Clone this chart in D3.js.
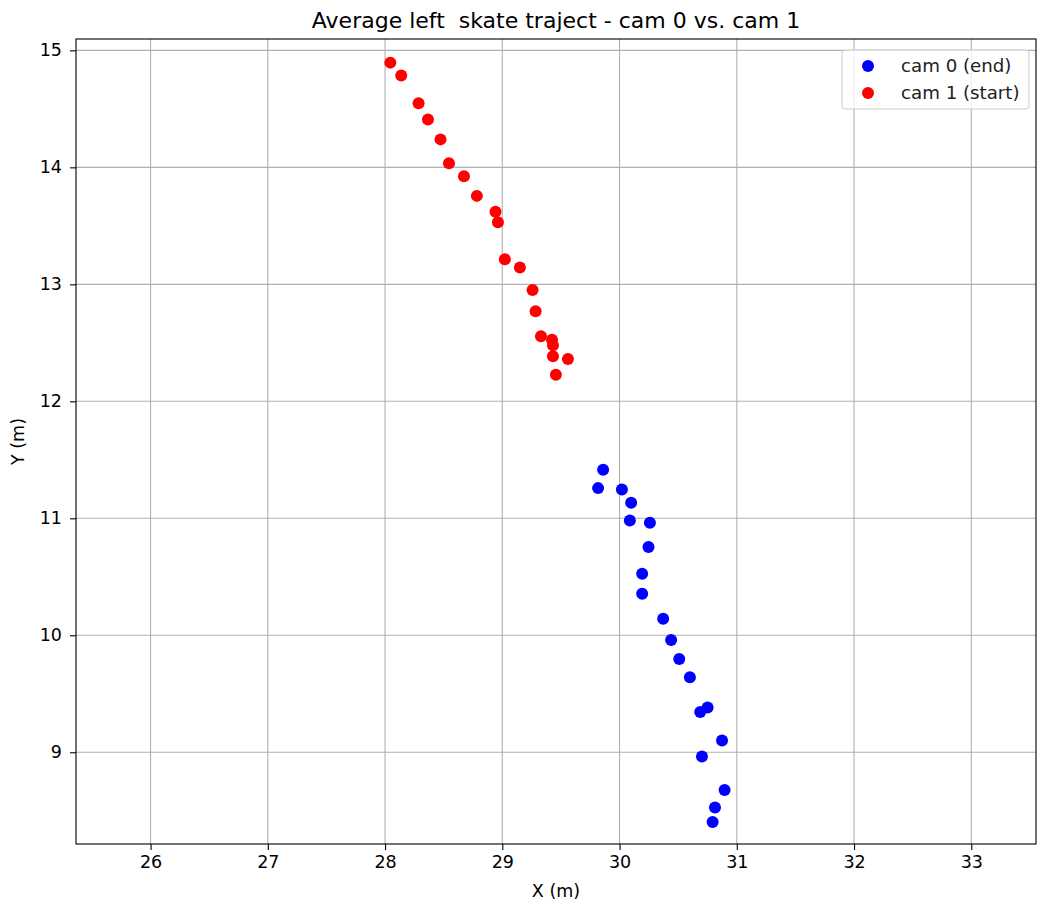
<!DOCTYPE html>
<html>
<head>
<meta charset="utf-8">
<script src="https://cdn.jsdelivr.net/npm/d3@7"></script>
<style>
  body { margin: 0; background: #fff; }
  text { font-family: "DejaVu Sans", sans-serif; fill: #000; }
</style>
</head>
<body>
<div id="chart"></div>
<script>
// cam 0 (end) points
const cam0X = [29.860, 29.817, 30.020, 30.099, 30.088, 30.259, 30.247, 30.193, 30.193, 30.372,
               30.440, 30.509, 30.600, 30.688, 30.751, 30.874, 30.703, 30.896, 30.814, 30.794];
const cam0Y = [11.416, 11.258, 11.247, 11.133, 10.982, 10.962, 10.754, 10.527, 10.356, 10.142,
               9.960, 9.797, 9.641, 9.344, 9.382, 9.100, 8.963, 8.678, 8.528, 8.405];

// cam 1 (start) points
const cam1X = [28.045, 28.138, 28.286, 28.366, 28.473, 28.545, 28.673, 28.783, 28.942, 28.963,
               29.022, 29.150, 29.258, 29.284, 29.330, 29.424, 29.432, 29.432, 29.560, 29.457];
const cam1Y = [14.895, 14.785, 14.547, 14.408, 14.239, 14.034, 13.923, 13.756, 13.621, 13.530,
               13.214, 13.143, 12.951, 12.769, 12.556, 12.527, 12.479, 12.385, 12.362, 12.228];

const xTicks = [26, 27, 28, 29, 30, 31, 32, 33];
const yTicks = [9, 10, 11, 12, 13, 14, 15];
const xDomain = [25.364, 33.552];
const yDomain = [8.216, 15.097];

const seriesNames  = ["cam 0 (end)", "cam 1 (start)"];
const seriesColors = ["#0000ff", "#ff0000"];

const width = 1037, height = 906;
const margin = {top: 39, right: 1, bottom: 62, left: 76};
const tickFont = "17.5px";

const svg = d3.select("#chart").append("svg")
    .attr("width", width)
    .attr("height", height);

const x = d3.scaleLinear().domain(xDomain).range([margin.left, width - margin.right]);
const y = d3.scaleLinear().domain(yDomain).range([height - margin.bottom, margin.top]);

// grid
svg.append("g").selectAll("line").data(xTicks).join("line")
    .attr("x1", d => x(d)).attr("x2", d => x(d))
    .attr("y1", margin.top).attr("y2", height - margin.bottom)
    .attr("stroke", "#b0b0b0").attr("stroke-width", 1.1);
svg.append("g").selectAll("line").data(yTicks).join("line")
    .attr("x1", margin.left).attr("x2", width - margin.right)
    .attr("y1", d => y(d)).attr("y2", d => y(d))
    .attr("stroke", "#b0b0b0").attr("stroke-width", 1.1);

// points
const series = [
    cam0X.map((v, i) => ({x: v, y: cam0Y[i]})),
    cam1X.map((v, i) => ({x: v, y: cam1Y[i]}))
];
series.forEach((pts, k) => {
    svg.append("g").selectAll("circle").data(pts).join("circle")
        .attr("cx", d => x(d.x))
        .attr("cy", d => y(d.y))
        .attr("r", 6)
        .attr("fill", seriesColors[k]);
});

// axes
const xAxis = svg.append("g")
    .attr("transform", `translate(0,${height - margin.bottom})`)
    .call(d3.axisBottom(x).tickValues(xTicks).tickSize(6).tickPadding(6).tickFormat(d3.format("d")));
const yAxis = svg.append("g")
    .attr("transform", `translate(${margin.left},0)`)
    .call(d3.axisLeft(y).tickValues(yTicks).tickSize(6).tickPadding(8).tickFormat(d3.format("d")));
[xAxis, yAxis].forEach(a => {
    a.select(".domain").remove();
    a.selectAll("text").style("font-size", tickFont).style("font-family", "DejaVu Sans, sans-serif")
        .style("fill", "#000");
    a.selectAll("line").attr("stroke", "#000").attr("stroke-width", 1.1);
});

// frame
svg.append("rect")
    .attr("x", margin.left).attr("y", margin.top)
    .attr("width", width - margin.left - margin.right)
    .attr("height", height - margin.top - margin.bottom)
    .attr("fill", "none").attr("stroke", "#000").attr("stroke-width", 1.1);

// labels
svg.append("text")
    .attr("x", (margin.left + width - margin.right) / 2).attr("y", 28)
    .attr("text-anchor", "middle").style("font-size", "22px")
    .style("white-space", "pre")
    .text("Average left  skate traject - cam 0 vs. cam 1");
svg.append("text")
    .attr("x", (margin.left + width - margin.right) / 2).attr("y", 897)
    .attr("text-anchor", "middle").style("font-size", tickFont)
    .text("X (m)");
svg.append("text")
    .attr("transform", `translate(24,${(margin.top + height - margin.bottom) / 2}) rotate(-90)`)
    .attr("text-anchor", "middle").style("font-size", tickFont)
    .text("Y (m)");

// legend
const legend = svg.append("g");
legend.append("rect")
    .attr("x", 842).attr("y", 50).attr("width", 187).attr("height", 59)
    .attr("rx", 3)
    .attr("fill", "#fff").attr("fill-opacity", 0.8)
    .attr("stroke", "#cccccc");
seriesNames.forEach((name, i) => {
    legend.append("circle")
        .attr("cx", 868).attr("cy", 66 + i * 27)
        .attr("r", 6).attr("fill", seriesColors[i]);
    legend.append("text")
        .attr("x", 901).attr("y", 66 + i * 27)
        .attr("dy", "0.35em")
        .style("font-size", "18.2px")
        .style("fill", "#222")
        .text(name);
});
</script>
</body>
</html>
